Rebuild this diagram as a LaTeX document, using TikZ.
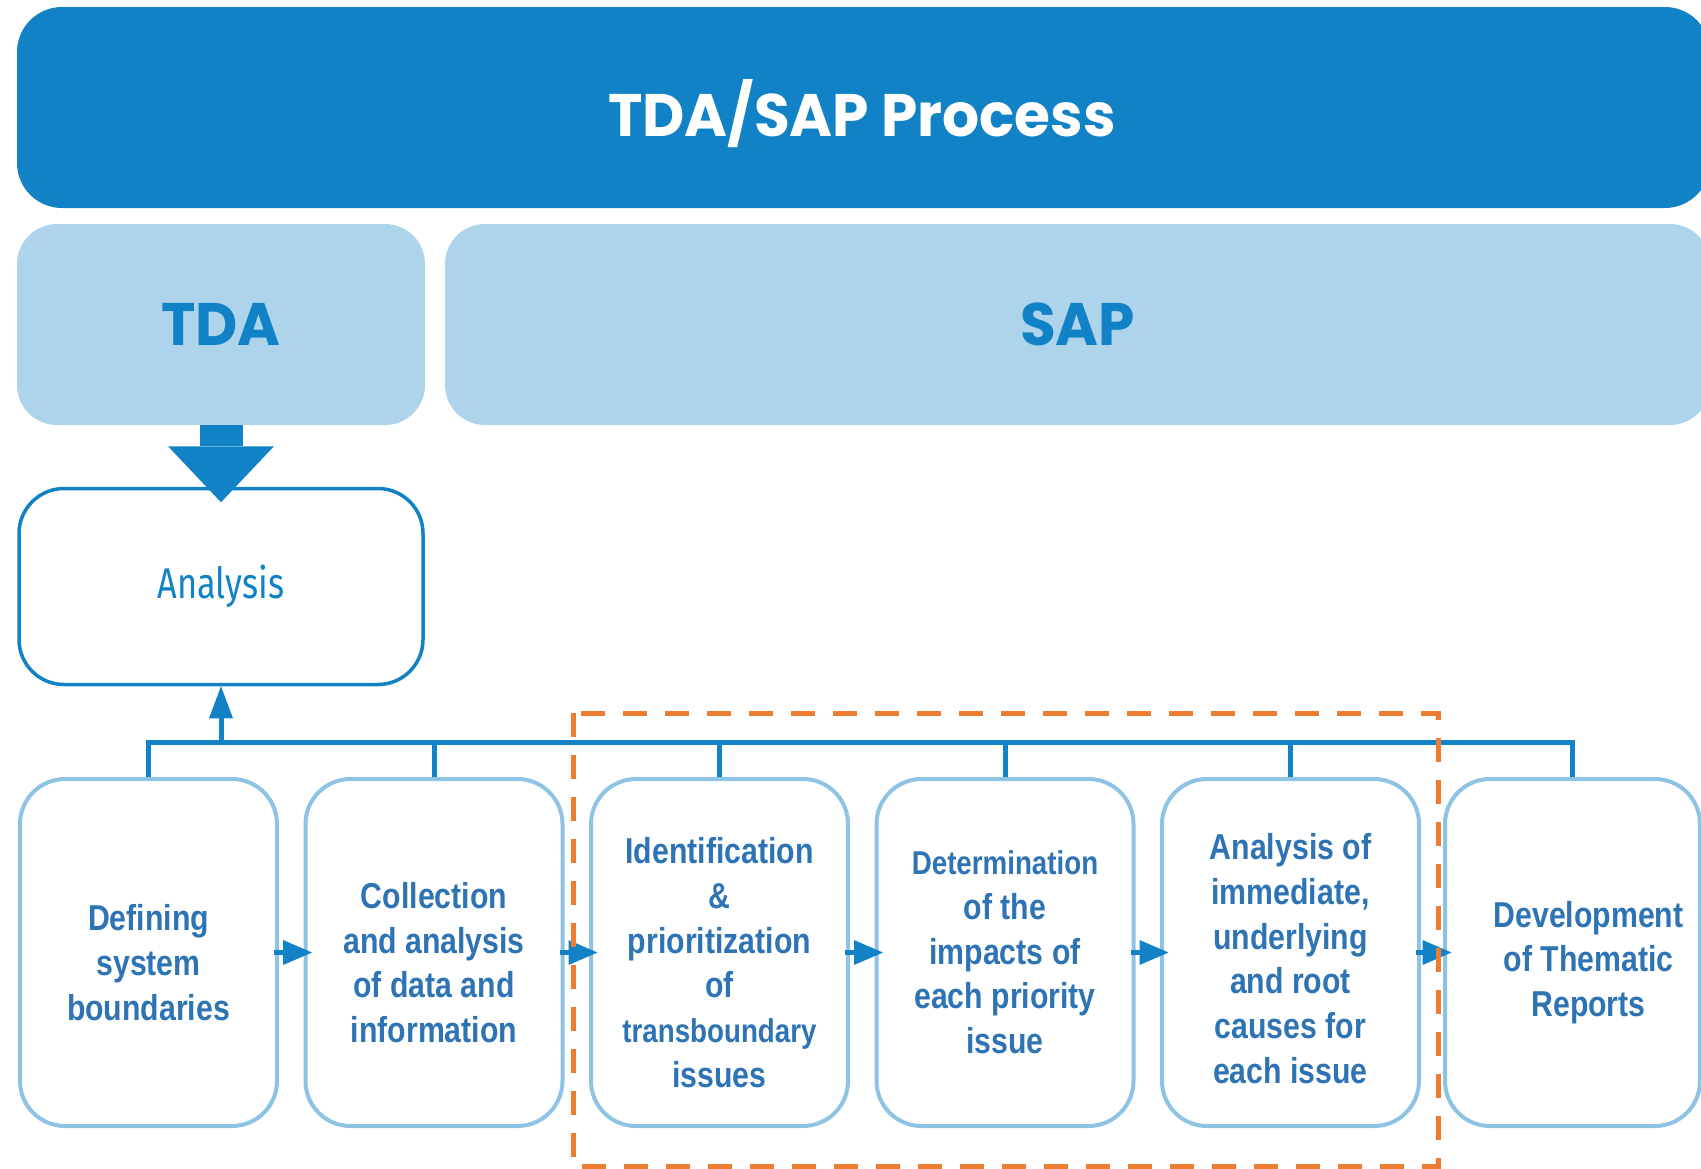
\documentclass[tikz,border=0pt]{standalone}
\usepackage{fontspec}
\setmainfont{Liberation Sans}
\newfontfamily\headfont[FakeStretch=0.97]{Poppins}
\newfontfamily\stepfont[FakeStretch=0.84]{Liberation Sans}
\newfontfamily\anfont[FakeStretch=0.8]{Fira Sans}
\usetikzlibrary{arrows.meta}
\definecolor{procblue}{HTML}{1182C5}
\definecolor{paleblue}{HTML}{ADD4EB}
\definecolor{edgeblue}{HTML}{8DC3E5}
\definecolor{inkblue}{HTML}{2E74B5}
\definecolor{dashorange}{HTML}{ED7D31}
\begin{document}
\begin{tikzpicture}
      [x=1pt,y=-1pt,
      bar/.style={rectangle,rounded corners=45pt,fill=procblue,inner sep=0pt,minimum width=1693pt,minimum height=201pt},
      phase/.style={rectangle,rounded corners=40pt,fill=paleblue,inner sep=0pt,minimum height=201pt,text=procblue,font=\headfont\bfseries\fontsize{60}{60}\selectfont},
      stage/.style={rectangle,rounded corners=45pt,draw=procblue,line width=3.5pt,fill=white,minimum width=404pt,minimum height=196pt,text=procblue,font=\anfont\fontsize{43}{43}\selectfont},
      stepbox/.style={rectangle,rounded corners=45pt,draw=edgeblue,line width=4pt,fill=white,inner sep=0pt,minimum width=257pt,minimum height=347pt},
      steptext/.style={align=center,text=inkblue,yshift=-10pt,font=\stepfont\bfseries\fontsize{36}{44.7}\selectfont},
      bus/.style={draw=procblue,line width=5pt},
      flow/.style={draw=procblue,line width=5pt,-{Triangle[length=29pt,width=25pt,line width=0pt]},shorten <=-5pt,shorten >=-8.5pt},
      groupframe/.style={draw=dashorange,line width=5pt,dash pattern=on 24pt off 18pt}
      ]
      \useasboundingbox (0,0) rectangle (1701,1168);

      % header and phases
      \node (process) at (863.5,107.5) [bar] {};
      \node (title) at (862,136) [anchor=base,text=white,font=\headfont\bfseries\fontsize{60}{60}\selectfont] {TDA/SAP Process};
      \node (tda) at (221,324.5) [phase,minimum width=408pt] {TDA};
      \node (sap) at (1077.5,324.5) [phase,minimum width=1265pt] {SAP};

      \node (analysis) at (221,586.5) [stage] {Analysis};
      \draw [procblue,line width=43pt,-{Triangle[length=56pt,width=106pt,line width=0pt]},shorten >=-15.5pt] (tda.south) to (analysis.north);

      % steps
      \node (s1) at (148.5,952.5) [stepbox,label={[steptext]center:{Defining\\system\\boundaries}}] {};
      \node (s2) at (434,952.5) [stepbox,label={[steptext]center:{Collection\\and analysis\\of data and\\information}}] {};
      \node (s3) at (719.5,952.5) [stepbox,label={[steptext]center:{Identification\\\&\\prioritization\\of\\{\fontsize{33}{44.7}\selectfont transboundary}\\issues}}] {};
      \node (s4) at (1005,952.5) [stepbox,label={[steptext,yshift=10pt]center:{{\fontsize{33}{44.7}\selectfont Determination}\\of the\\impacts of\\each priority\\issue}}] {};
      \node (s5) at (1290.5,952.5) [stepbox,label={[steptext,yshift=4pt]center:{Analysis of\\immediate,\\underlying\\and root\\causes for\\each issue}}] {};
      \node (s6) at (1572.5,952.5) [stepbox,minimum width=255pt,label={[steptext,xshift=16pt]center:{Development\\of Thematic\\Reports}}] {};

      \coordinate (bus) at (221,742);
      \draw [bus] (s1.north) |- (bus) -| (s6.north);
      \draw [bus] (s2.north) to (s2.north |- bus);
      \draw [bus] (s3.north) to (s3.north |- bus);
      \draw [bus] (s4.north) to (s4.north |- bus);
      \draw [bus] (s5.north) to (s5.north |- bus);
      \draw [bus,-{Triangle[length=32pt,width=24pt,line width=0pt]}] (bus) to (analysis.south);

      \draw [flow] (s1.east) to (s2.west);
      \draw [flow] (s2.east) to (s3.west);
      \draw [flow] (s3.east) to (s4.west);
      \draw [flow] (s4.east) to (s5.west);
      \draw [flow] (s5.east) to (s6.west);

      \draw [groupframe] (573,713) rectangle (1438,1166);
    \end{tikzpicture}
\end{document}
